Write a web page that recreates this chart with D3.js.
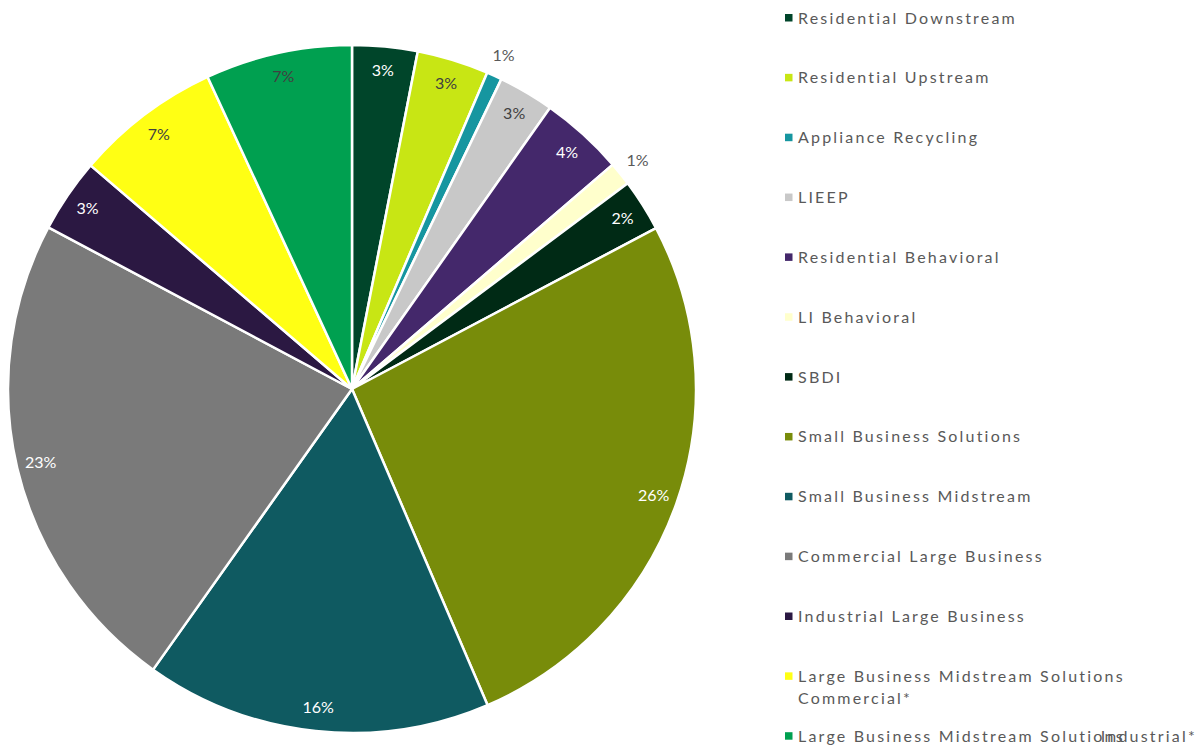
<!DOCTYPE html>
<html>
<head>
<meta charset="utf-8">
<script src="https://cdn.jsdelivr.net/npm/d3@7"></script>
<style>
  html, body { margin: 0; padding: 0; background: #ffffff; }
  svg { display: block; }
</style>
</head>
<body>
<svg id="chart" width="1197" height="745"></svg>
<script>
// Program categories, clockwise from 12 o'clock
const categories = [
  "Residential Downstream",
  "Residential Upstream",
  "Appliance Recycling",
  "LIEEP",
  "Residential Behavioral",
  "LI Behavioral",
  "SBDI",
  "Small Business Solutions",
  "Small Business Midstream",
  "Commercial Large Business",
  "Industrial Large Business",
  "Large Business Midstream Solutions Commercial*",
  "Large Business Midstream Solutions Industrial*"
];

// Share of the total (percent)
const shares = [3.06, 3.36, 0.72, 2.61, 3.92, 1.11, 2.45, 26.26, 16.24, 22.94, 3.47, 6.83, 6.89];

const colors = [
  "#00452a", "#c8e614", "#1696a0", "#c8c8c8", "#44286b", "#ffffcc", "#002a15",
  "#788c0a", "#0f5a61", "#7a7a7a", "#2b1842", "#ffff14", "#00a050"
];

// Label colour per slice (dark text on light fills)
const labelColors = [
  "#ffffff", "#404040", "#595959", "#404040", "#ffffff", "#595959", "#ffffff",
  "#ffffff", "#ffffff", "#ffffff", "#ffffff", "#404040", "#404040"
];

// Slices too thin for an inside label get their label outside the rim
const outsideLabel = [false, false, true, false, false, true, false, false, false, false, false, false, false];

const data = categories.map((name, i) => ({
  name, value: shares[i], color: colors[i], labelColor: labelColors[i], outside: outsideLabel[i]
}));

const svg = d3.select("#chart");
const cx = 352, cy = 389, R = 344;
const total = d3.sum(shares);
const pct = d3.format(".0%");
const fontFamily = "Lato, 'Open Sans', sans-serif";

const pie = d3.pie().value(d => d.value).sort(null);
const arc = d3.arc().innerRadius(0).outerRadius(R);
const arcs = pie(data);

const g = svg.append("g").attr("transform", `translate(${cx},${cy})`);

g.selectAll("path.slice")
  .data(arcs)
  .join("path")
  .attr("class", "slice")
  .attr("d", arc)
  .attr("fill", d => d.data.color)
  .attr("stroke", "#ffffff")
  .attr("stroke-width", 2.5)
  .attr("stroke-linejoin", "round");

const inLabelArc = d3.arc().innerRadius(320).outerRadius(320);
const outLabelArc = d3.arc().innerRadius(366).outerRadius(366);

g.selectAll("text.val")
  .data(arcs)
  .join("text")
  .attr("class", "val")
  .attr("transform", d => `translate(${(d.data.outside ? outLabelArc : inLabelArc).centroid(d)})`)
  .attr("text-anchor", "middle")
  .attr("dy", "0.35em")
  .style("font-family", fontFamily)
  .style("font-size", "16px")
  .attr("fill", d => d.data.labelColor)
  .text(d => pct(d.data.value / total));

// Legend
const legendX = 785, legendY0 = 18, legendStep = 59.85, wrapWidth = 345;
const legendFont = "16px", legendSpacing = "2.2px";
const legend = svg.append("g").attr("class", "legend");

const items = legend.selectAll("g.item")
  .data(data)
  .join("g")
  .attr("class", "item")
  .attr("transform", (d, i) => `translate(${legendX},${legendY0 + i * legendStep})`);

items.append("rect")
  .attr("x", 0)
  .attr("y", -4)
  .attr("width", 7.5)
  .attr("height", 7.5)
  .attr("fill", d => d.color);

function styleText(sel) {
  return sel
    .attr("fill", "#595959")
    .style("font-family", fontFamily)
    .style("font-size", legendFont)
    .style("letter-spacing", legendSpacing);
}

items.each(function (d, i) {
  const item = d3.select(this);
  const text = styleText(item.append("text").attr("x", 13).attr("y", 5.5));

  // wrap words into lines that fit the legend column
  const words = d.name.split(" ");
  let line = [];
  let tspan = text.append("tspan").attr("x", 13);
  const lines = [];
  words.forEach(w => {
    line.push(w);
    tspan.text(line.join(" "));
    if (tspan.node().getComputedTextLength() > wrapWidth && line.length > 1) {
      line.pop();
      tspan.text(line.join(" "));
      lines.push(tspan);
      line = [w];
      tspan = text.append("tspan").attr("x", 13).text(w);
    }
  });
  lines.push(tspan);

  const isLast = i === data.length - 1;
  if (isLast && lines.length > 1) {
    // no room below the last row: the overflow stays on the same row,
    // pushed against the right edge
    const extra = lines.slice(1).map(t => t.text()).join(" ");
    lines.slice(1).forEach(t => t.remove());
    styleText(item.append("text")
      .attr("x", 1197 - legendX)
      .attr("y", 5.5)
      .attr("text-anchor", "end"))
      .text(extra);
  } else {
    lines.forEach((t, k) => { if (k > 0) t.attr("dy", "1.38em"); });
  }
});
</script>
</body>
</html>
